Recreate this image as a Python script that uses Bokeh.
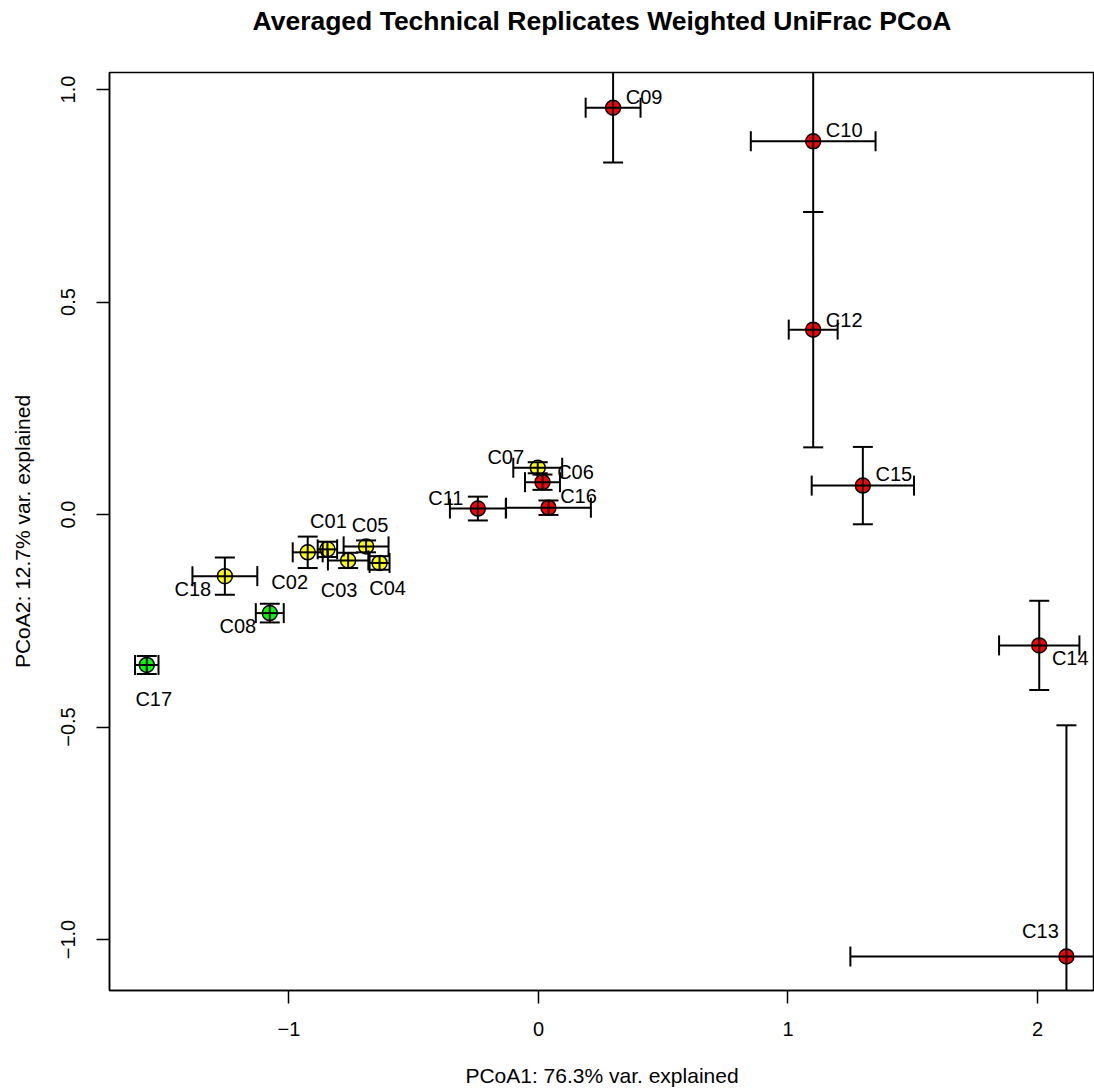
import numpy as np
from bokeh.plotting import figure
from bokeh.models import FixedTicker, ColumnDataSource, Range1d, Title
from bokeh.core.properties import value
from bokeh.embed import file_html
from bokeh.resources import INLINE

# ---- data ----
samples = ["C01", "C02", "C03", "C04", "C05", "C06", "C07", "C08", "C09",
           "C10", "C11", "C12", "C13", "C14", "C15", "C16", "C17", "C18"]
pc1_mean = [-0.846, -0.925, -0.763, -0.637, -0.691, 0.016, -0.003, -1.077, 0.299,
            1.101, -0.243, 1.101, 2.116, 2.007, 1.300, 0.040, -1.570, -1.257]
pc2_mean = [-0.082, -0.089, -0.108, -0.114, -0.075, 0.076, 0.110, -0.232, 0.957,
            0.878, 0.014, 0.435, -1.040, -0.308, 0.068, 0.016, -0.354, -0.145]
pc1_sd = [0.039, 0.060, 0.081, 0.040, 0.090, 0.070, 0.098, 0.056, 0.110,
          0.250, 0.112, 0.098, 0.866, 0.161, 0.205, 0.170, 0.047, 0.130]
pc2_sd = [0.018, 0.037, 0.018, 0.016, 0.014, 0.018, 0.013, 0.022, 0.129,
          0.166, 0.028, 0.277, 0.544, 0.105, 0.091, 0.017, 0.021, 0.044]
groups = ["yellow", "yellow", "yellow", "yellow", "yellow", "red", "yellow", "green", "red",
          "red", "red", "red", "red", "red", "red", "red", "green", "yellow"]

x_ticks = [-1, 0, 1, 2]
x_tick_labels = ["\u22121", "0", "1", "2"]
y_ticks = [-1.0, -0.5, 0.0, 0.5, 1.0]
y_tick_labels = ["\u22121.0", "\u22120.5", "0.0", "0.5", "1.0"]

title_text = "Averaged Technical Replicates Weighted UniFrac PCoA"
x_label = "PCoA1: 76.3% var. explained"
y_label = "PCoA2: 12.7% var. explained"

# ---- styling (label offsets in screen pixels) ----
group_colors = {"yellow": "#FFFF00", "red": "#FF0000", "green": "#00FF00"}
label_dx = [1, -18, -9, 8, 4, 33, -32, -32, 31, 31, -32, 31, -26, 31, 31, 30, 7, -32]
label_dy = [-28, 30, 30, 25, -21, -10, -11, 13, -11, -11, -11, -10, -26, 13, -12, -12, 34, 13]

FONT = "Liberation Sans"

pc1 = np.array(pc1_mean)
pc2 = np.array(pc2_mean)
s1 = np.array(pc1_sd)
s2 = np.array(pc2_sd)

src = ColumnDataSource(dict(
    x=pc1, y=pc2, name=samples,
    color=[group_colors[g] for g in groups],
    x0=pc1 - s1, x1=pc1 + s1, y0=pc2 - s2, y1=pc2 + s2,
    dx=label_dx, dy=label_dy,
))

p = figure(width=1094, height=1092, output_backend="svg", toolbar_location=None,
           x_range=Range1d(-1.7194, 2.2285), y_range=Range1d(-1.12, 1.04),
           min_border_left=109, min_border_right=0, min_border_top=72, min_border_bottom=102)
p.background_fill_color = "white"
p.border_fill_color = "white"
p.outline_line_color = "black"
p.outline_line_width = 1.5
p.xgrid.visible = False
p.ygrid.visible = False

# a blank second line reserves the space between the title and the frame
p.title = Title(text=title_text + "\n", align="center", vertical_align="top",
                text_font=FONT, text_font_size="26.5px",
                text_font_style="bold", text_color="black", standoff=10)

# points
p.scatter("x", "y", source=src, size=15, fill_color="color", line_color="black", line_width=1.5)

# error bars
p.segment(x0="x0", y0="y", x1="x1", y1="y", source=src, line_color="black", line_width=2)
p.segment(x0="x", y0="y0", x1="x", y1="y1", source=src, line_color="black", line_width=2)
p.scatter("x", "y0", source=src, marker="dash", size=20, line_color="black", line_width=2)
p.scatter("x", "y1", source=src, marker="dash", size=20, line_color="black", line_width=2)
p.scatter("x0", "y", source=src, marker="dash", angle=np.pi / 2, size=20, line_color="black", line_width=2)
p.scatter("x1", "y", source=src, marker="dash", angle=np.pi / 2, size=20, line_color="black", line_width=2)

# labels
p.text("x", "y", text="name", source=src, x_offset="dx", y_offset="dy",
       text_align="center", text_baseline="middle", text_font=value(FONT),
       text_font_size="20px", text_color="black")

# axes
for ax in (p.xaxis[0], p.yaxis[0]):
    ax.axis_line_color = "black"
    ax.axis_line_width = 1.5
    ax.major_tick_line_color = "black"
    ax.major_tick_line_width = 1.5
    ax.major_tick_in = 0
    ax.major_tick_out = 13
    ax.minor_tick_line_color = None
    ax.major_label_text_font = FONT
    ax.major_label_text_font_size = "20px"
    ax.major_label_text_color = "black"
    ax.axis_label_text_font = FONT
    ax.axis_label_text_font_size = "21px"
    ax.axis_label_text_font_style = "normal"
    ax.axis_label_text_color = "black"

p.xaxis.ticker = FixedTicker(ticks=x_ticks)
p.xaxis.major_label_overrides = {t: l for t, l in zip(x_ticks, x_tick_labels)}
p.xaxis.axis_label = x_label
p.xaxis.major_label_standoff = 18
p.xaxis.axis_label_standoff = 25

p.yaxis.ticker = FixedTicker(ticks=y_ticks)
p.yaxis.major_label_overrides = {t: l for t, l in zip(y_ticks, y_tick_labels)}
p.yaxis.axis_label = y_label
p.yaxis.major_label_orientation = "vertical"
p.yaxis.major_label_standoff = 22
p.yaxis.axis_label_standoff = 24

open("out.html", "w").write(file_html(p, INLINE))
